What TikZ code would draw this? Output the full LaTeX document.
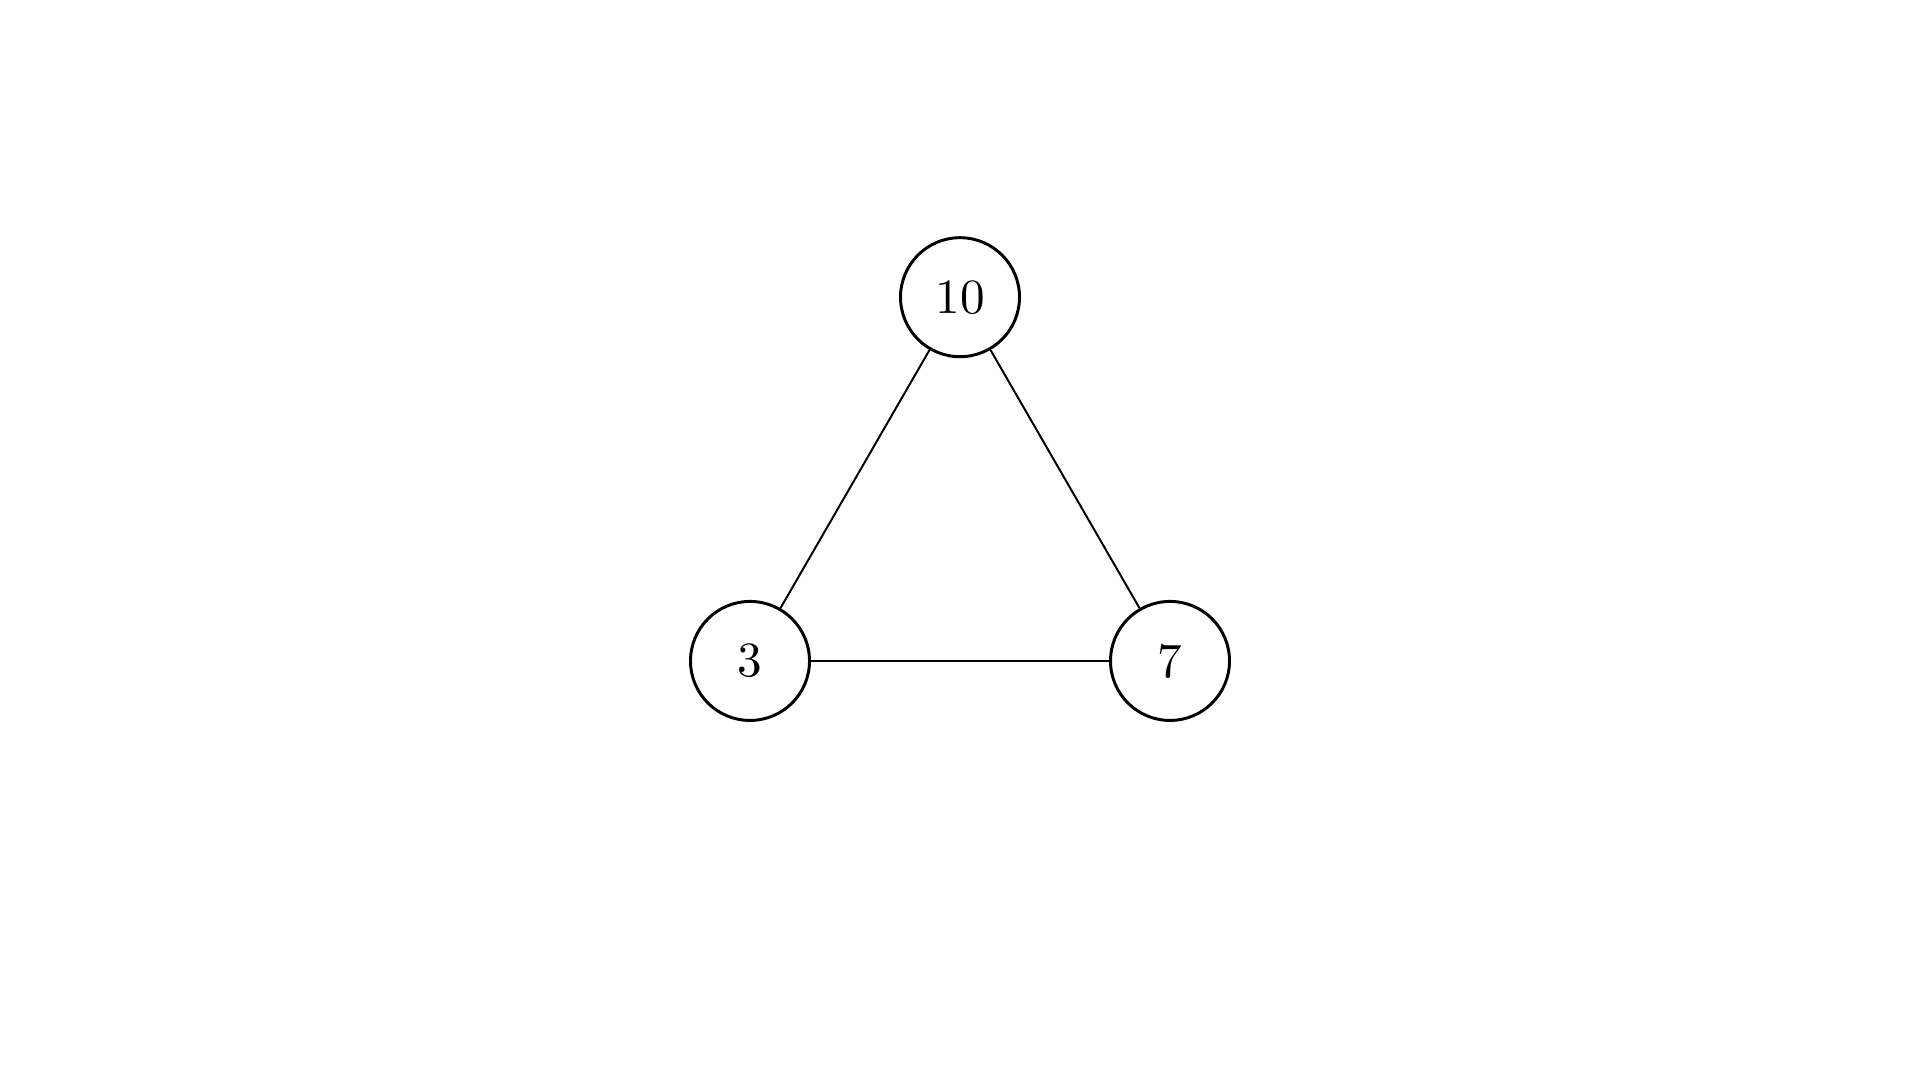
\documentclass[tikz,border=0pt]{standalone}
\usepackage{tikz}
\usepackage{amsmath}
\usepackage{xcolor}

\begin{document}
\begin{tikzpicture}[node distance=3cm, auto]
        \useasboundingbox (-5.357,-2.993) rectangle (8.357,4.721);
        % Nodes
        \node[draw, circle, semithick, minimum size=0.85cm] (Three) {3};
        \node[draw, circle, semithick, minimum size=0.85cm, right of=Three] (Seven) {7};
        \node[draw, circle, semithick, minimum size=0.85cm] (Ten) at (60:3) {10};

        % Edges
        \draw (Ten) -- (Three);
        \draw (Ten) -- (Seven);
        \draw (Three) -- (Seven);
    \end{tikzpicture}
\end{document}
